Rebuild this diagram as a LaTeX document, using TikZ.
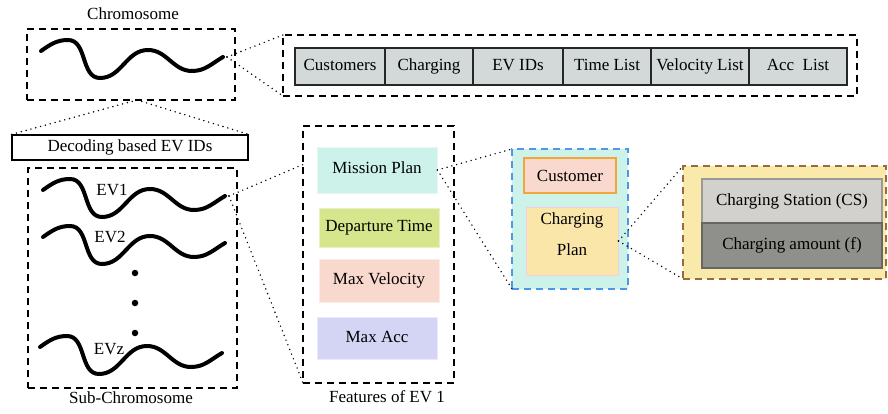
\documentclass[tikz,border=0pt]{standalone}
\usepackage{fontspec}
\setmainfont{Liberation Serif}
\usetikzlibrary{positioning,calc}
\definecolor{cellgray}{RGB}{211,216,216}
\definecolor{mintcol}{RGB}{204,242,234}
\definecolor{deptcol}{RGB}{214,230,140}
\definecolor{velcol}{RGB}{249,216,206}
\definecolor{acccol}{RGB}{212,212,245}
\definecolor{bluedash}{RGB}{80,150,230}
\definecolor{custedge}{RGB}{242,166,58}
\definecolor{pinkedge}{RGB}{245,205,225}
\definecolor{planyel}{RGB}{251,230,170}
\definecolor{boxyel}{RGB}{249,233,170}
\definecolor{browndash}{RGB}{154,106,58}
\definecolor{csgray}{RGB}{210,209,205}
\definecolor{cagray}{RGB}{143,143,139}
\newcommand{\evwave}{to[out=35,in=180] ++(27,11) to[out=0,in=180] ++(32,-38)
  to[out=0,in=180] ++(48,28) to[out=0,in=180] ++(44,-21) to[out=0,in=210] ++(31,14)}

\begin{document}
\begin{tikzpicture}[x=1pt, y=1pt, font=\fontsize{17}{20}\selectfont,
  dbox/.style={draw, line width=1.5pt, dash pattern=on 7pt off 5pt,
               inner sep=0pt, outer sep=0pt},
  cell/.style={draw=black!85, line width=1.3pt, fill=cellgray, minimum height=37pt,
               inner sep=0pt, outer sep=0pt, text height=12pt, text depth=4pt},
  feat/.style={draw=#1!50!white, line width=0.8pt, fill=#1, minimum width=120pt,
               inner sep=0pt, text height=12pt, text depth=4pt},
  wave/.style={line width=4pt, line cap=round},
  link/.style={line width=1.6pt, dash pattern=on 0pt off 5pt, line cap=round},
  dot/.style={circle, fill=black, inner sep=0pt, minimum size=6.5pt}
]
  \useasboundingbox (0,0) rectangle (888,-414);

  % chromosome
  \node[dbox, minimum width=208pt, minimum height=71pt] (chrom) at (131,-64.5) {};
  \node (chromlbl) at (133,-14) {Chromosome};
  \draw[wave] (41,-51) \evwave coordinate (cwe);

  % genes of the chromosome
  \node[dbox, minimum width=574pt, minimum height=61pt] (genes) at (570,-65.5) {};
  \node[cell, minimum width=90pt] (cus) at (340,-66.5) {Customers};
  \node[cell, minimum width=88pt, right=0pt of cus] (chg) {Charging};
  \node[cell, minimum width=90pt, right=0pt of chg] (ids) {EV IDs};
  \node[cell, minimum width=88pt, right=0pt of ids] (tl)  {Time List};
  \node[cell, minimum width=98pt, right=0pt of tl]  (vl)  {Velocity List};
  \node[cell, minimum width=98pt, right=0pt of vl]  (al)  {Acc\ \ List};

  % decoding
  \node[draw, line width=1.2pt, minimum width=236pt, minimum height=25pt,
        inner sep=0pt] (dec) at (130,-147.5) {Decoding based EV IDs};

  % sub-chromosome
  \node[dbox, minimum width=209pt, minimum height=220pt] (sub) at (132.5,-278) {};
  \node (sublbl) at (131,-398) {Sub-Chromosome};
  \draw[wave] (43,-190) \evwave coordinate (w1e);
  \draw[wave] (43,-237) \evwave;
  \draw[wave] (40,-347) \evwave;
  \node (ev1) at (112,-190) {EV1};
  \node (ev2) at (110,-237) {EV2};
  \node (evz) at (109,-349) {EVz};
  \node[dot] (d1) at (135,-273) {};
  \node[dot] (d2) at (135,-303) {};
  \node[dot] (d3) at (135,-333) {};

  % features of one EV
  \node[dbox, minimum width=151pt, minimum height=257pt] (feat) at (378.5,-254.5) {};
  \node (featlbl) at (387,-397) {Features of EV 1};
  \node[feat=mintcol, minimum height=46pt] (mp) at (377,-170)   {Mission Plan};
  \node[feat=deptcol, minimum height=39pt] (dt) at (379,-227.5) {Departure Time};
  \node[feat=velcol,  minimum height=43pt] (mv) at (379,-280.5) {Max Velocity};
  \node[feat=acccol,  minimum height=42pt] (ma) at (377,-338)   {Max Acc};

  % mission plan
  \node[dbox, draw=bluedash, fill=mintcol, minimum width=116pt,
        minimum height=140pt] (plan) at (570,-219) {};
  \node[draw=custedge, line width=1.5pt, fill=velcol, minimum width=92pt,
        minimum height=35pt, inner sep=0pt] (cust) at (570,-175.5) {Customer};
  \node[draw=pinkedge, line width=1pt, fill=planyel, minimum width=92pt,
        minimum height=68pt, inner sep=0pt, align=center,
        text depth=14pt] (cp) at (572,-241) {Charging\\[11pt]Plan};

  % charging plan
  \node[dbox, draw=browndash, fill=boxyel, minimum width=203pt,
        minimum height=113pt] (cpd) at (784.5,-222.5) {};
  \node[draw=black!40, line width=1.2pt, fill=csgray, minimum width=180pt,
        minimum height=44pt, inner sep=0pt, outer sep=0pt] (cs) at (792,-201)
        {Charging Station (CS)};
  \node[draw=black!60, line width=1.2pt, fill=cagray, minimum width=180pt,
        minimum height=45pt, inner sep=0pt, outer sep=0pt, below=0pt of cs] (ca)
        {Charging amount (f)};

  % zoom lines
  \draw[link] ([xshift=4pt]cwe) -- (genes.north west);
  \draw[link] ([xshift=4pt]cwe) -- (genes.south west);
  \draw[link] ([xshift=6pt]chrom.south) -- (dec.north west);
  \draw[link] ([xshift=6pt]chrom.south) -- (dec.north east);
  \draw[link] ([xshift=4pt]w1e) -- ($(feat.north west)!0.15!(feat.south west)$);
  \draw[link] ([xshift=4pt]w1e) -- (feat.south west);
  \draw[link] (mp.east) -- (plan.north west);
  \draw[link] (mp.east) -- (plan.south west);
  \draw[link] (cp.east) -- (cpd.north west);
  \draw[link] (cp.east) -- (cpd.south west);
\end{tikzpicture}
\end{document}
